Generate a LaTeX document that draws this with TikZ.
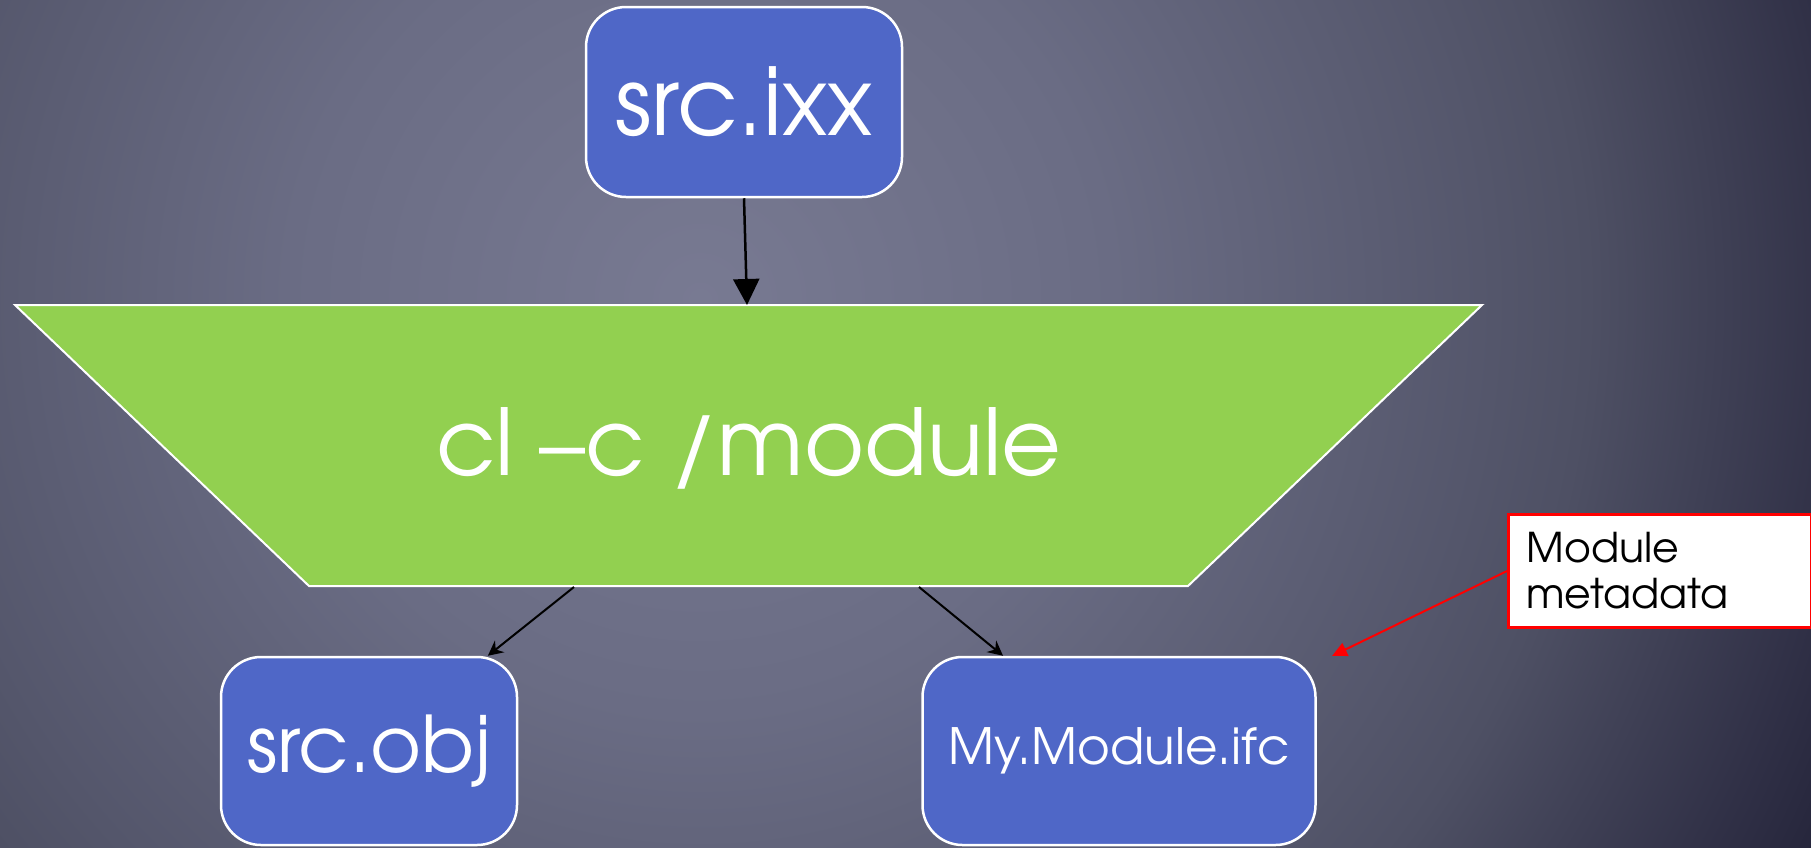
\documentclass[tikz,border=0pt]{standalone}
\usepackage{fontspec}
\setmainfont{TeX Gyre Adventor}
\usetikzlibrary{arrows.meta}

\definecolor{boxblue}{RGB}{79,103,199}
\definecolor{cmdgreen}{RGB}{146,208,80}
\definecolor{calloutred}{RGB}{255,0,0}

% slide background: soft radial glow, darkest towards the lower right
\pgfdeclareradialshading{slidebg}{\pgfpoint{0bp}{0bp}}{%
  rgb(0bp)=(0.471,0.478,0.573);
  rgb(8.3bp)=(0.416,0.424,0.518);
  rgb(15.7bp)=(0.333,0.341,0.424);
  rgb(17.9bp)=(0.306,0.314,0.392);
  rgb(23.2bp)=(0.188,0.188,0.275);
  rgb(25bp)=(0.149,0.149,0.235);
  rgb(50bp)=(0.149,0.149,0.235)}

\begin{document}
\begin{tikzpicture}[x=1pt,y=-1pt,
  filebox/.style={draw=white, line width=2.5pt, fill=boxblue, rounded corners=40pt,
                  text=white, inner sep=0pt},
  flowarrow/.style={draw=black, line width=2.5pt, -{Triangle[length=26pt,width=26pt]}},
  outarrow/.style={draw=black, line width=2pt, -{Stealth[length=15pt,width=15pt,inset=5pt]}},
  notearrow/.style={draw=calloutred, line width=2pt, -{Triangle[length=15pt,width=14pt]}},
  notebox/.style={draw=calloutred, line width=3pt, fill=white, text=black, align=left,
                  text width=267pt, inner xsep=18pt, inner ysep=0pt,
                  font=\fontsize{41}{46}\selectfont}]

\useasboundingbox (0,0) rectangle (1811,847);

% background
\begin{scope}
  \clip (0,0) rectangle (1811,847);
  \shade[shading=slidebg] (700,300) circle[radius=1240pt];
\end{scope}

% compiler stage
\coordinate (cmdTL) at (15,305);
\coordinate (cmdTR) at (1482,305);
\coordinate (cmdBR) at (1188,586);
\coordinate (cmdBL) at (309,586);
\draw[fill=cmdgreen, draw=white, line width=2pt] (cmdTL) -- (cmdTR) -- (cmdBR) -- (cmdBL) -- cycle;
\node[text=white, font=\fontsize{92}{100}\selectfont] (cmd) at (749,448) {cl –c /module};
\coordinate (cmdIn) at (747,305);
\coordinate (cmdOutL) at (574,587);
\coordinate (cmdOutR) at (919,587);

% files
\node[filebox, font=\fontsize{94}{100}\selectfont, minimum width=316pt, minimum height=190pt]
  (ixx) at (744,102) {src.ixx};
\node[filebox, font=\fontsize{78}{90}\selectfont, minimum width=296pt, minimum height=188pt]
  (obj) at (369,751) {src.obj};
\node[filebox, font=\fontsize{50}{58}\selectfont, minimum width=393pt, minimum height=188pt]
  (ifc) at (1119,751) {My.Module.ifc};

% callout
\node[notebox, minimum width=303pt, minimum height=113pt, anchor=north west] (meta) at (1507,513)
  {Module\\metadata};
\coordinate (metaTip) at (1332,656);

% connectors
\draw[flowarrow] (ixx.south) -- (cmdIn);
\draw[outarrow] (cmdOutL) -- (obj);
\draw[outarrow] (cmdOutR) -- (ifc);
\draw[notearrow] (meta.west) -- (metaTip);

\end{tikzpicture}
\end{document}
